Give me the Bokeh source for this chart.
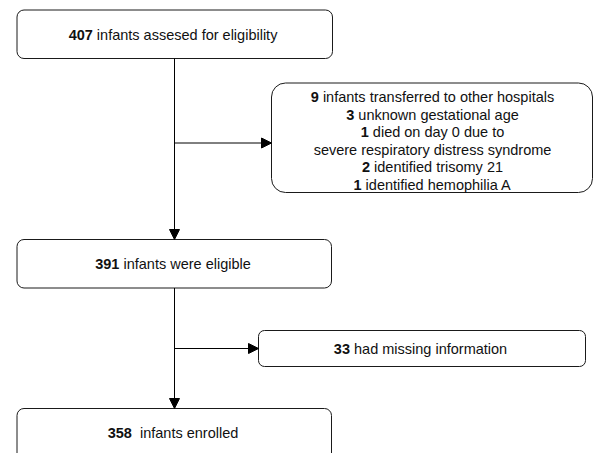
from bokeh.plotting import figure
from bokeh.models import Range1d, Arrow, NormalHead
from bokeh.core.properties import value
from bokeh.embed import file_html
from bokeh.resources import INLINE

# ---- data ----
assessed = 407
assessed_label = "infants assesed for eligibility"
excluded_counts = ["9", "3", "1", "", "2", "1"]
excluded_labels = ["infants transferred to other hospitals",
                   "unknown gestational age",
                   "died on day 0 due to",
                   "severe respiratory distress syndrome",
                   "identified trisomy 21",
                   "identified hemophilia A"]
eligible = 391
eligible_label = "infants were eligible"
missing = 33
missing_label = "had missing information"
enrolled = 358
enrolled_label = "infants enrolled"

FONT = "Liberation Sans"
FS = 14.5
W = dict(a=556, b=556, c=500, d=556, e=556, f=278, g=556, h=556, i=222, j=222, k=500,
         l=222, m=833, n=556, o=556, p=556, q=556, r=333, s=500, t=278, u=556, v=500,
         w=722, x=500, y=500, z=500, A=667)
W[" "] = 278
for dgt in "0123456789":
    W[dgt] = 556

def tw(s):
    return sum(W.get(ch, 556) for ch in s) / 1000.0 * FS

p = figure(width=594, height=453, output_backend="svg", toolbar_location=None,
           x_range=Range1d(0, 594), y_range=Range1d(453, 0),
           min_border=0, outline_line_color=None)
p.axis.visible = False
p.grid.visible = False
p.background_fill_color = "white"
p.border_fill_color = "white"

# boxes: left, right, top, bottom, radius
boxes = [
    (16.5, 332, 9.5, 58, 7),
    (271, 592, 82.5, 192, 14),
    (16.5, 331, 239, 287.5, 7),
    (258, 585, 330, 366, 6),
    (16.5, 331, 408, 460, 7),
]
for l, r, t, b, rad in boxes:
    p.quad(left=[l], right=[r], top=[t], bottom=[b], fill_color="white",
           line_color="#1a1a1a", line_width=1, border_radius=rad)

bold_x, bold_y, bold_t = [], [], []
norm_x, norm_y, norm_t = [], [], []

def add_line(cx, cy, bold, rest, gap=1):
    wb = tw(bold) if bold else 0
    sp = W[" "] / 1000.0 * FS * gap if bold else 0
    wn = tw(rest)
    total = wb + sp + wn
    x0 = cx - total / 2
    if bold:
        bold_x.append(x0); bold_y.append(cy); bold_t.append(bold)
    norm_x.append(x0 + wb + sp); norm_y.append(cy); norm_t.append(rest)

add_line(172.5, 34, str(assessed), assessed_label)
line_h = 17.5
for k, (bn, lb) in enumerate(zip(excluded_counts, excluded_labels)):
    add_line(432, 96.5 + k * line_h, bn, lb)
add_line(172.5, 263.5, str(eligible), eligible_label)
add_line(420, 348, str(missing), missing_label)
add_line(172.5, 432, str(enrolled), enrolled_label, gap=2)

p.text(x=bold_x, y=bold_y, text=bold_t, text_font=value(FONT), text_font_size=f"{FS}px",
       text_font_style="bold", text_align="left", text_baseline="middle", text_color="#111111")
p.text(x=norm_x, y=norm_y, text=norm_t, text_font=value(FONT), text_font_size=f"{FS}px",
       text_align="left", text_baseline="middle", text_color="#111111")

cx = 174
def arrow(x0, y0, x1, y1):
    p.add_layout(Arrow(end=NormalHead(size=10, fill_color="black", line_color="black"),
                       x_start=x0, y_start=y0, x_end=x1, y_end=y1,
                       line_color="black", line_width=1))

arrow(cx, 58, cx, 239)
arrow(cx, 142.5, 271, 142.5)
arrow(cx, 287.5, cx, 408)
arrow(cx, 348, 258, 348)

open("out.html", "w").write(file_html(p, INLINE))
